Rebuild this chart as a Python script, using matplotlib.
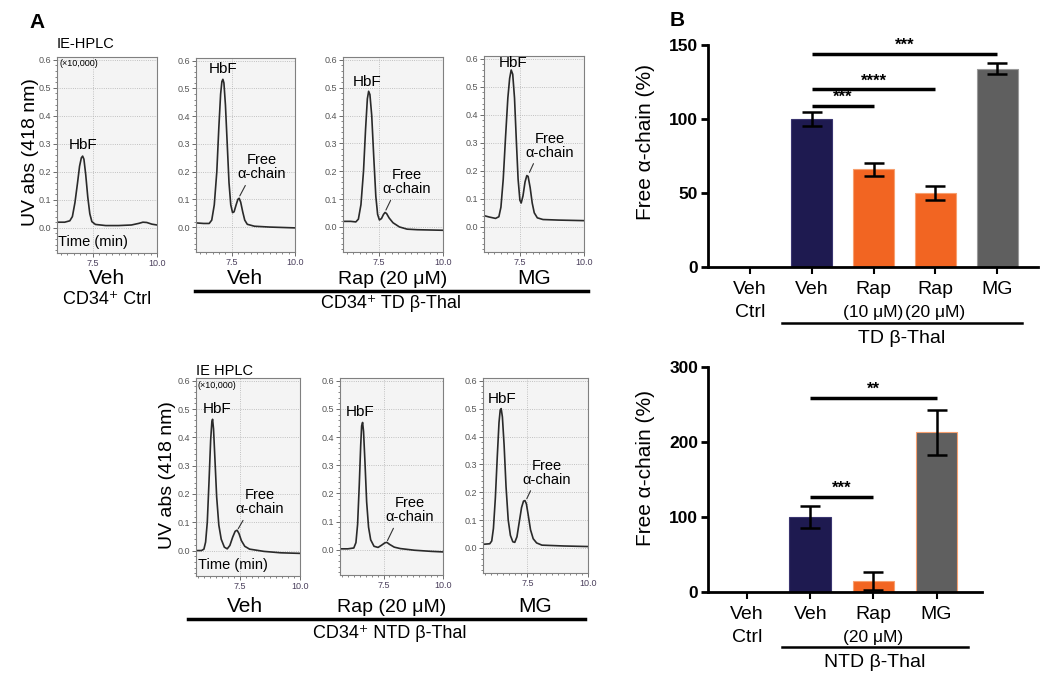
import matplotlib.pyplot as plt
import matplotlib.transforms as mtransforms
from matplotlib.ticker import MultipleLocator
from matplotlib.lines import Line2D

plt.rcParams['font.family'] = ['Liberation Sans', 'DejaVu Sans']

W, H = 1050, 680

# ---- panel A: IE-HPLC traces (time in min, absorbance x10,000) ----
ctrl_veh_t = [6.1, 6.4, 6.6, 6.7, 6.8, 6.9, 6.98, 7.05, 7.1, 7.15, 7.22, 7.3, 7.38, 7.46, 7.6, 8.0, 8.5, 9.0, 9.3, 9.45, 9.6, 9.8, 10.0]
ctrl_veh_v = [0.02, 0.02, 0.025, 0.04, 0.09, 0.16, 0.22, 0.25, 0.256, 0.245, 0.19, 0.11, 0.05, 0.022, 0.012, 0.008, 0.008, 0.01, 0.016, 0.02, 0.019, 0.013, 0.01]

td_veh_t = [6.1, 6.4, 6.62, 6.72, 6.82, 6.92, 7.0, 7.07, 7.12, 7.16, 7.2, 7.26, 7.33, 7.4, 7.47, 7.54, 7.6, 7.68, 7.75, 7.8, 7.86, 7.94, 8.02, 8.12, 8.4, 9.0, 10.0]
td_veh_v = [0.015, 0.013, 0.013, 0.025, 0.08, 0.2, 0.36, 0.48, 0.525, 0.533, 0.52, 0.44, 0.3, 0.16, 0.08, 0.052, 0.055, 0.08, 0.1, 0.104, 0.09, 0.055, 0.025, 0.01, 0.003, 0.0, -0.003]

td_rap_t = [6.1, 6.4, 6.6, 6.7, 6.8, 6.9, 6.98, 7.05, 7.1, 7.15, 7.22, 7.3, 7.38, 7.45, 7.52, 7.6, 7.68, 7.74, 7.8, 7.9, 8.05, 8.3, 8.6, 9.0, 10.0]
td_rap_v = [0.02, 0.02, 0.018, 0.028, 0.08, 0.2, 0.35, 0.46, 0.487, 0.475, 0.4, 0.25, 0.11, 0.045, 0.025, 0.03, 0.045, 0.052, 0.048, 0.032, 0.015, 0.0, -0.008, -0.01, -0.012]

td_mg_t = [6.1, 6.3, 6.55, 6.68, 6.76, 6.85, 6.94, 7.03, 7.1, 7.16, 7.22, 7.29, 7.36, 7.43, 7.5, 7.55, 7.62, 7.7, 7.77, 7.82, 7.9, 7.98, 8.06, 8.18, 8.4, 9.0, 10.0]
td_mg_v = [0.04, 0.035, 0.03, 0.036, 0.07, 0.17, 0.32, 0.46, 0.53, 0.56, 0.545, 0.46, 0.31, 0.17, 0.095, 0.085, 0.11, 0.16, 0.183, 0.18, 0.14, 0.085, 0.05, 0.032, 0.026, 0.024, 0.022]

ntd_veh_t = [5.67, 5.9, 6.0, 6.07, 6.14, 6.21, 6.28, 6.33, 6.36, 6.4, 6.46, 6.53, 6.62, 6.72, 6.85, 6.97, 7.08, 7.2, 7.3, 7.38, 7.46, 7.56, 7.7, 7.9, 8.5, 9.2, 10.0]
ntd_veh_v = [0.0, 0.0, 0.005, 0.03, 0.1, 0.24, 0.39, 0.455, 0.464, 0.43, 0.32, 0.19, 0.09, 0.04, 0.012, 0.006, 0.018, 0.048, 0.068, 0.072, 0.06, 0.035, 0.015, 0.005, -0.003, -0.008, -0.01]

ntd_rap_t = [5.67, 6.0, 6.25, 6.34, 6.41, 6.48, 6.54, 6.58, 6.62, 6.66, 6.72, 6.79, 6.87, 6.96, 7.1, 7.27, 7.42, 7.55, 7.64, 7.75, 7.95, 8.2, 8.8, 9.5, 10.0]
ntd_rap_v = [0.003, 0.003, 0.006, 0.025, 0.09, 0.23, 0.37, 0.44, 0.452, 0.42, 0.31, 0.17, 0.08, 0.035, 0.012, 0.008, 0.016, 0.024, 0.026, 0.019, 0.009, 0.004, -0.002, -0.006, -0.008]

ntd_mg_t = [5.67, 5.95, 6.03, 6.1, 6.18, 6.26, 6.33, 6.38, 6.42, 6.47, 6.54, 6.62, 6.71, 6.8, 6.9, 6.98, 7.07, 7.16, 7.26, 7.34, 7.4, 7.46, 7.54, 7.63, 7.74, 7.88, 8.1, 9.0, 10.0]
ntd_mg_v = [0.013, 0.015, 0.025, 0.07, 0.18, 0.33, 0.45, 0.495, 0.5, 0.47, 0.37, 0.22, 0.1, 0.045, 0.022, 0.02, 0.04, 0.09, 0.145, 0.168, 0.17, 0.158, 0.115, 0.065, 0.033, 0.018, 0.01, 0.007, 0.005]

# ---- panel B: free alpha-chain (%) ----
td_names = ['Veh', 'Veh', 'Rap', 'Rap', 'MG']
td_sub = ['Ctrl', '', '(10 μM)', '(20 μM)', '']
td_mean = [0, 100, 66, 50, 134]
td_err = [0, 5, 4.5, 4.5, 3.5]
td_sig = [(1, 4, 144, '***'), (1, 3, 120, '****'), (1, 2, 109, '***')]

ntd_names = ['Veh', 'Veh', 'Rap', 'MG']
ntd_sub = ['Ctrl', '', '(20 μM)', '']
ntd_mean = [0, 100, 15, 213]
ntd_err = [0, 15, 12, 30]
ntd_sig = [(1, 3, 259, '**'), (1, 2, 127, '***')]

navy, orange, grey = '#1e1a50', '#f26522', '#5f5f5f'

fig = plt.figure(figsize=(10.5, 6.8), dpi=100)


def px_axes(l, t, r, b):
    return fig.add_axes([l / W, 1 - b / H, (r - l) / W, (b - t) / H])


def ftext(x, y, s, **kw):
    fig.text(x / W, 1 - y / H, s, **kw)


def hline(x0, x1, y, lw=2.5):
    fig.add_artist(Line2D([x0 / W, x1 / W], [1 - y / H, 1 - y / H],
                          transform=fig.transFigure, color='black', lw=lw))


def chrom(ax, t, v, x0, hbf, free_txt, free_pt):
    ax.set_facecolor('#f4f4f4')
    ax.plot(t, v, color='#2a2a2a', lw=1.2)
    ax.set_xlim(x0, 10.0)
    ax.set_ylim(-0.09, 0.61)
    ax.set_yticks([0.0, 0.1, 0.2, 0.3, 0.4, 0.5, 0.6])
    ax.set_yticklabels(['0.0', '0.1', '0.2', '0.3', '0.4', '0.5', '0.6'])
    ax.set_xticks([7.5, 10.0])
    ax.set_xticklabels(['7.5', '10.0'])
    ax.yaxis.set_minor_locator(MultipleLocator(0.02))
    ax.xaxis.set_minor_locator(MultipleLocator(0.25))
    ax.tick_params(which='major', length=3, width=0.6, labelsize=6.5,
                   colors='#555555', pad=1)
    ax.tick_params(which='minor', length=1.5, width=0.5, colors='#555555')
    ax.tick_params(axis='x', labelcolor='#4a3f5c')
    ax.grid(True, ls=':', lw=0.6, color='#b0b0b0')
    for s in ax.spines.values():
        s.set_color('#808080')
        s.set_linewidth(0.8)
    ax.text(hbf[0], hbf[1], 'HbF', ha='center', va='center', fontsize=11)
    if free_txt is not None:
        ax.annotate('Free\nα-chain', xy=free_pt, xytext=free_txt,
                    ha='center', va='center', fontsize=10.5, linespacing=1.0,
                    arrowprops=dict(arrowstyle='-', lw=0.8, color='#333333',
                                    relpos=(0.2, 0.0), shrinkA=1, shrinkB=1))


# top row
ax1 = px_axes(57, 57, 157, 253)
chrom(ax1, ctrl_veh_t, ctrl_veh_v, 6.1, (7.12, 0.295), None, None)
ax1.text(0.01, 0.02, 'Time (min)', transform=ax1.transAxes, fontsize=10.5,
         ha='left', va='bottom')
ax2 = px_axes(196, 58, 295, 252)
chrom(ax2, td_veh_t, td_veh_v, 6.1, (7.16, 0.57), (8.7, 0.215), (7.8, 0.108))
ax3 = px_axes(343, 57, 443, 252)
chrom(ax3, td_rap_t, td_rap_v, 6.1, (7.04, 0.52), (8.6, 0.16), (7.75, 0.056))
ax4 = px_axes(484, 56, 584, 252)
chrom(ax4, td_mg_t, td_mg_v, 6.1, (7.23, 0.585), (8.67, 0.29), (7.85, 0.19))

# bottom row
ax5 = px_axes(196, 378, 300, 576)
chrom(ax5, ntd_veh_t, ntd_veh_v, 5.67, (6.54, 0.5), (8.33, 0.17), (7.4, 0.073))
ax5.text(0.02, 0.02, 'Time (min)', transform=ax5.transAxes, fontsize=10.5,
         ha='left', va='bottom')
ax6 = px_axes(340, 378, 443, 575)
chrom(ax6, ntd_rap_t, ntd_rap_v, 5.67, (6.51, 0.49), (8.61, 0.14), (7.64, 0.028))
ax7 = px_axes(483, 378, 588, 573)
chrom(ax7, ntd_mg_t, ntd_mg_v, 5.67, (6.45, 0.535), (8.31, 0.27), (7.45, 0.172))

# panel A labels
ftext(37, 22, 'A', fontsize=15, fontweight='bold', ha='center', va='center')
ftext(57, 44, 'IE-HPLC', fontsize=10.5, ha='left', va='center')
ftext(59, 63, '(×10,000)', fontsize=6.5, ha='left', va='center')
ftext(196, 371, 'IE HPLC', fontsize=10.5, ha='left', va='center')
ftext(198, 385, '(×10,000)', fontsize=6.5, ha='left', va='center')
ftext(31, 152, 'UV abs (418 nm)', fontsize=14, rotation=90, ha='center', va='center')
ftext(167, 475, 'UV abs (418 nm)', fontsize=14, rotation=90, ha='center', va='center')

ftext(107, 279, 'Veh', fontsize=15, ha='center', va='center')
ftext(107, 300, 'CD34⁺ Ctrl', fontsize=13, ha='center', va='center')
ftext(245, 279, 'Veh', fontsize=15, ha='center', va='center')
ftext(393, 279, 'Rap (20 μM)', fontsize=14, ha='center', va='center')
ftext(534, 279, 'MG', fontsize=15, ha='center', va='center')
hline(195, 588, 291)
ftext(391, 303, 'CD34⁺ TD β-Thal', fontsize=13, ha='center', va='center')

ftext(245, 607, 'Veh', fontsize=15, ha='center', va='center')
ftext(392, 607, 'Rap (20 μM)', fontsize=14, ha='center', va='center')
ftext(535, 607, 'MG', fontsize=15, ha='center', va='center')
hline(188, 585, 619)
ftext(390, 633, 'CD34⁺ NTD β-Thal', fontsize=13, ha='center', va='center')


def bars(ax, names, sub, mean, err, sig, colors, ymax, step, group_label, gx, gy):
    x = list(range(len(names)))
    ax.bar(x[1:], mean[1:], width=0.66, color=colors[1:],
           edgecolor=['#3a3570', '#f7a070', '#f7a070', '#9a9a9a'][:len(x) - 1], lw=0.8)
    ax.errorbar(x[1:], mean[1:], yerr=err[1:], fmt='none', ecolor='black',
                elinewidth=1.8, capsize=7.5, capthick=1.8)
    for a, b, y, s in sig:
        ax.plot([a, b], [y, y], color='black', lw=2.5, solid_capstyle='butt')
        ax.text((a + b) / 2, y + ymax * 0.004, s, ha='center', va='bottom',
                fontsize=12, fontweight='bold')
    ax.set_ylim(0, ymax)
    ax.set_yticks(list(range(0, ymax + 1, step)))
    ax.set_xticks(x)
    ax.set_xticklabels([])
    tr = mtransforms.blended_transform_factory(ax.transData, ax.transAxes)
    for xi, n, s in zip(x, names, sub):
        ax.annotate(n, (xi, 0), xycoords=tr, xytext=(0, -16.5),
                    textcoords='offset points', ha='center', va='center',
                    fontsize=14)
        if s:
            ax.annotate(s, (xi, 0), xycoords=tr, xytext=(0, -32.5),
                        textcoords='offset points', ha='center', va='center',
                        fontsize=12.5 if 'μ' in s else 14)
    ax.set_yticks(list(range(0, ymax + 1, step)))
    for lab in ax.get_yticklabels():
        lab.set_fontweight('bold')
    ax.tick_params(axis='y', labelsize=12.5, width=2, length=5, pad=2)
    ax.tick_params(axis='x', width=1.5, length=5)
    for s in ['top', 'right']:
        ax.spines[s].set_visible(False)
    for s in ['left', 'bottom']:
        ax.spines[s].set_linewidth(2)
    ax.set_ylabel('Free α-chain (%)', fontsize=15)
    ax.plot(gx, [gy, gy], transform=tr, color='black', lw=1.8, clip_on=False)
    ax.text((gx[0] + gx[1]) / 2, gy - 0.03, group_label, transform=tr,
            ha='center', va='top', fontsize=14)


axb1 = px_axes(708, 45, 1038, 267)
axb1.set_xlim(-0.68, 4.66)
bars(axb1, td_names, td_sub, td_mean, td_err, td_sig,
     ['w', navy, orange, orange, grey], 150, 50, 'TD β-Thal', [0.52, 4.4], -0.252)
axb1.yaxis.set_label_coords(-0.16, 0.563)

axb2 = px_axes(708, 367, 982, 592)
axb2.set_xlim(-0.62, 3.72)
bars(axb2, ntd_names, ntd_sub, ntd_mean, ntd_err, ntd_sig,
     ['w', navy, orange, grey], 300, 100, 'NTD β-Thal', [0.55, 3.5], -0.245)
axb2.yaxis.set_label_coords(-0.193, 0.55)

ftext(677, 20, 'B', fontsize=15, fontweight='bold', ha='center', va='center')

fig.savefig('out.png', dpi=100)
